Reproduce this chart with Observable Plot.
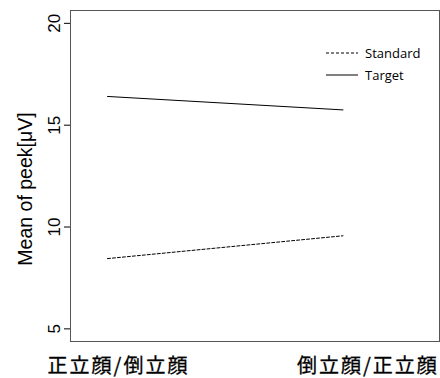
<!DOCTYPE html>
<html><head><meta charset="utf-8">
<script src="https://cdn.jsdelivr.net/npm/d3@7"></script>
<script src="https://cdn.jsdelivr.net/npm/@observablehq/plot@0.6"></script>
<style>
body{margin:0;background:#fff;}
#wrap{position:relative;width:440px;height:378px;}
#legend{position:absolute;left:326px;top:42px;font-family:"Open Sans",sans-serif;font-size:13px;color:#000;line-height:22px;}
#legend div{display:flex;align-items:center;}
#legend svg{margin-right:7px;}
</style></head><body>
<div id="wrap"><div id="legend"></div></div>
<script>
const conditions = [1, 2];
const conditionLabels = ["正立顔/倒立顔", "倒立顔/正立顔"];
const series = ["Standard", "Target"];
const standardValues = [8.45, 9.57];
const targetValues = [16.41, 15.75];
const yTicks = [5, 10, 15, 20];

const rows = [];
conditions.forEach((c, i) => {
  rows.push({x: c, y: standardValues[i], s: "Standard"});
  rows.push({x: c, y: targetValues[i], s: "Target"});
});

const chart = Plot.plot({
  width: 440, height: 378,
  marginLeft: 70, marginRight: 1, marginTop: 10, marginBottom: 37,
  style: {fontFamily: "'Liberation Sans', Arial, sans-serif", background: "#fff"},
  x: {domain: [0.843, 2.41]},
  y: {domain: [4.38, 20.63]},
  marks: [
    Plot.frame({stroke: "#555"}),
    Plot.axisY({ticks: yTicks, tickSize: 6, tickRotate: -90, fontSize: 17, tickPadding: 5, stroke: "#000",
      label: null}),
    Plot.axisX({ticks: [conditions[0]], tickSize: 0, tickFormat: () => conditionLabels[0], dx: 11, dy: 8,
      fontSize: 20, fontWeight: "normal", label: null, fontFamily: "'Noto Sans CJK JP'", fill: "#000"}),
    Plot.axisX({ticks: [conditions[1]], tickSize: 0, tickFormat: () => conditionLabels[1], dx: 25, dy: 8,
      fontSize: 20, fontWeight: "normal", label: null, fontFamily: "'Noto Sans CJK JP'", fill: "#000"}),
    Plot.text(["Mean of peek[μV]"], {frameAnchor: "left", textAnchor: "middle", dx: -45, dy: 13, rotate: -90, fontSize: 19.5, fill: "#000"}),
    Plot.line(rows.filter(d => d.s === "Standard"), {x: "x", y: "y", stroke: "#000", strokeWidth: 1, strokeDasharray: "3,2"}),
    Plot.line(rows.filter(d => d.s === "Target"), {x: "x", y: "y", stroke: "#000", strokeWidth: 1})
  ]
});
d3.select(chart).selectAll("[aria-label='x-axis tick label'] text")
  .style("letter-spacing", "2px").style("stroke", "#000").style("stroke-width", "0.3px");
document.getElementById("wrap").prepend(chart);

const leg = d3.select("#legend");
series.forEach(s => {
  const row = leg.append("div");
  const sv = row.append("svg").attr("width", 32).attr("height", 10);
  sv.append("line").attr("x1", 0).attr("x2", 32).attr("y1", 5).attr("y2", 5)
    .attr("stroke", "#000").attr("stroke-width", 1)
    .attr("stroke-dasharray", s === "Standard" ? "3,2" : null);
  row.append("span").text(s);
});
</script>
</body></html>
